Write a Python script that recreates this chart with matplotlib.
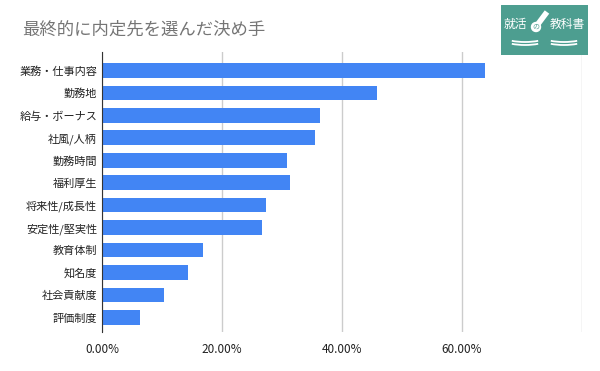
import matplotlib.pyplot as plt
from matplotlib.patches import Rectangle, Arc, Circle
from matplotlib.ticker import FuncFormatter

plt.rcParams['font.family'] = ['Noto Sans CJK JP', 'DejaVu Sans']

# data (percent)
categories = [
    "業務・仕事内容", "勤務地", "給与・ボーナス", "社風/人柄", "勤務時間",
    "福利厚生", "将来性/成長性", "安定性/堅実性", "教育体制", "知名度",
    "社会貢献度", "評価制度",
]
values = [63.9, 45.8, 36.3, 35.5, 30.8, 31.4, 27.4, 26.7, 16.8, 14.3, 10.3, 6.3]
x_ticks = [0, 20, 40, 60, 80]

fig = plt.figure(figsize=(6, 3.71), dpi=100)
ax = fig.add_axes([0.17, 0.105, 0.7995, 0.755])

pos = list(range(len(categories)))
ax.barh(pos, values, height=0.65, color="#4285f4", zorder=3)
ax.set_ylim(11.65, -0.82)
ax.set_xlim(0, 80)

ax.set_yticks(pos)
ax.set_yticklabels(categories, fontsize=8, color="#222222")
ax.set_xticks(x_ticks)
# the last gridline has no label in the original
ax.xaxis.set_major_formatter(FuncFormatter(lambda v, p: "" if v >= 80 else f"{v:.2f}%"))
ax.tick_params(axis="x", labelsize=8.5, colors="#222222", length=0, pad=8)
ax.tick_params(axis="y", length=0, pad=3.5)

for s in ["top", "right", "bottom"]:
    ax.spines[s].set_visible(False)
ax.spines["left"].set_color("#333333")
ax.spines["left"].set_zorder(4)
ax.grid(axis="x", color="#cccccc", linewidth=1, zorder=0)

fig.text(22 / 600, 1 - 30 / 371, "最終的に内定先を選んだ決め手", fontsize=12.5,
         color="#757575", va="center", ha="left")

# logo
lax = fig.add_axes([501 / 600, 1 - 55 / 371, 87 / 600, 50 / 371])
lax.set_xlim(0, 87)
lax.set_ylim(0, 50)
lax.axis("off")
lax.add_patch(Rectangle((0, 0), 87, 50, color="#4d9e90"))
lax.text(14, 31, "就活", color="white", fontsize=8.5, ha="center", va="center")
lax.add_patch(Circle((35, 28), 4.5, color="white"))
lax.text(35, 28, "の", color="#4d9e90", fontsize=5, ha="center", va="center")
lax.plot([37, 46], [31, 43], color="white", lw=4, solid_capstyle="butt")
lax.text(66, 31, "教科書", color="white", fontsize=8.5, ha="center", va="center")
for dy in [0, 3]:
    lax.add_patch(Arc((24, 19 - dy), 44, 12, theta1=200, theta2=340, color="white", lw=1.3))
    lax.add_patch(Arc((63, 19 - dy), 44, 12, theta1=200, theta2=340, color="white", lw=1.3))

fig.savefig("out.png", dpi=100)
